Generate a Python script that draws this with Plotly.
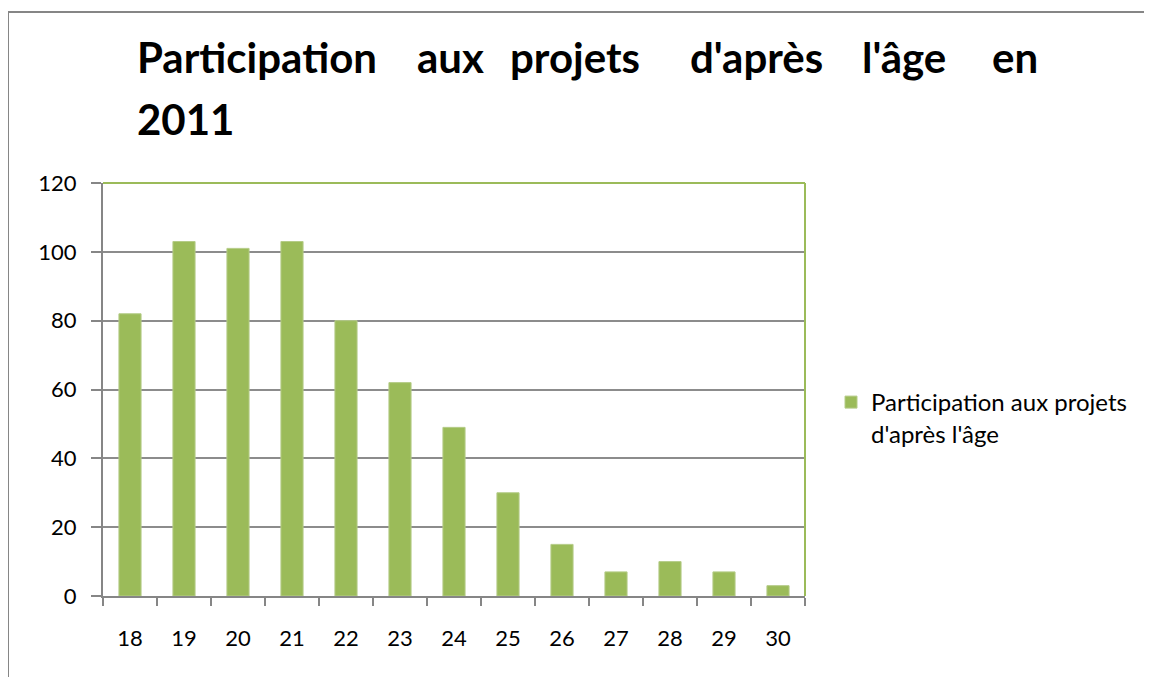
import plotly.graph_objects as go

ages = ["18", "19", "20", "21", "22", "23", "24", "25", "26", "27", "28", "29", "30"]
participants = [82, 103, 101, 103, 80, 62, 49, 30, 15, 7, 10, 7, 3]
series_name = "Participation aux projets<br>d'après l'âge"
title_line1 = ["Participation", "aux", "projets", "d'après", "l'âge", "en"]
title_line2 = "2011"
y_ticks = [0, 20, 40, 60, 80, 100, 120]

W, H = 1152, 677
OFF = 8  # page body margin offset
L, R, T, B = 103 - OFF, 805 - OFF, 183 - OFF, 596 - OFF
pw, ph = R - L, B - T

def px(x):
    return (x - OFF - L) / pw

def py(y):
    return (B - (y - OFF)) / ph

GREEN = "#9bbb59"
GRAY = "#868686"
FONT = "Lato"

fig = go.Figure()
fig.add_trace(go.Bar(
    x=ages, y=participants, name=series_name,
    marker=dict(color=GREEN, line=dict(color="#b5cc88", width=1)),
    showlegend=True,
))

title_x = [135, 415, 508, 688, 860, 990]
anns = []
for word, xx in zip(title_line1, title_x):
    anns.append(dict(text=word, x=px(xx), y=py(57), xref="paper", yref="paper",
                     xanchor="left", yanchor="middle", showarrow=False,
                     font=dict(family=FONT, size=42, color="#000000", weight="bold")))
anns.append(dict(text=title_line2, x=px(135), y=py(119), xref="paper", yref="paper",
                 xanchor="left", yanchor="middle", showarrow=False,
                 font=dict(family=FONT, size=42, color="#000000", weight="bold")))

shapes = [
    dict(type="line", xref="paper", yref="paper", x0=0, x1=1, y0=1, y1=1,
         line=dict(color=GREEN, width=2)),
    dict(type="line", xref="paper", yref="paper", x0=1, x1=1, y0=0, y1=1,
         line=dict(color=GREEN, width=2)),
    dict(type="line", xref="paper", yref="paper", x0=px(8), x1=px(8), y0=py(12), y1=py(700),
         line=dict(color=GRAY, width=2)),
    dict(type="line", xref="paper", yref="paper", x0=px(8), x1=px(1170), y0=py(12), y1=py(12),
         line=dict(color=GRAY, width=2)),
]

fig.update_layout(
    width=W, height=H,
    margin=dict(l=L, r=W - R, t=T, b=H - B, pad=0),
    paper_bgcolor="white", plot_bgcolor="white",
    font=dict(family=FONT, size=22, color="#000000"),
    bargap=0.59,
    annotations=anns,
    shapes=shapes,
    legend=dict(x=px(831), y=py(380), xanchor="left", yanchor="top", valign="top",
                font=dict(family=FONT, size=24, color="#000000"),
                bgcolor="rgba(0,0,0,0)", itemwidth=30, tracegroupgap=0),
    xaxis=dict(type="category", tickson="boundaries", ticks="outside", ticklen=8,
               tickwidth=2, tickcolor=GRAY, showline=True, linecolor=GRAY, linewidth=2,
               showgrid=False, ticklabelstandoff=22, range=[-0.5, 12.5]),
    yaxis=dict(range=[0, 120], tickvals=y_ticks, ticks="outside", ticklen=10,
               tickwidth=2, tickcolor=GRAY, showline=True, linecolor=GRAY, linewidth=2,
               showgrid=True, gridcolor="#8c8c8c", gridwidth=1.5, zeroline=False,
               ticklabelstandoff=10),
)

fig.write_html("out.html")
